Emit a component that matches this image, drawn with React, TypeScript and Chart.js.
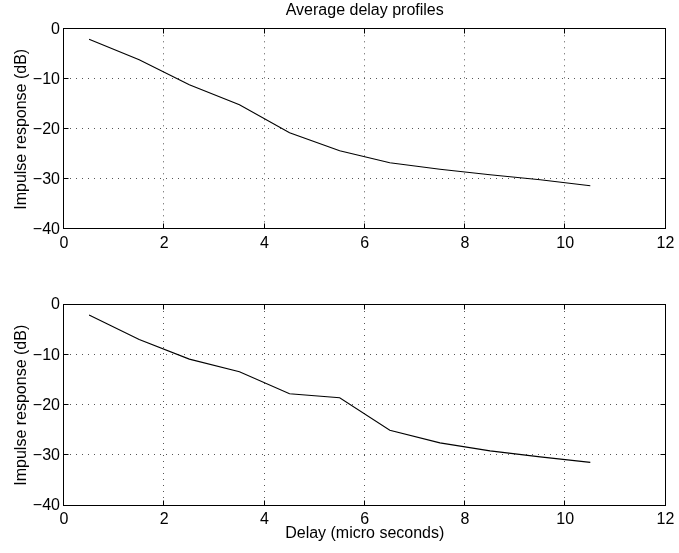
import React, { useEffect, useRef } from "react";
import { Chart, registerables } from "chart.js";

Chart.register(...registerables);

// Tap delays (micro seconds) and average impulse response (dB)
const delays = [0.5, 1.5, 2.5, 3.5, 4.5, 5.5, 6.5, 7.5, 8.5, 9.5, 10.5];
const upperProfile = [-2.0, -6.1, -11.1, -15.1, -20.7, -24.3, -26.7, -28.0, -29.1, -30.1, -31.3];
const lowerProfile = [-2.0, -6.9, -10.8, -13.3, -17.7, -18.5, -25.0, -27.5, -29.1, -30.3, -31.4];

const xTicks = [0, 2, 4, 6, 8, 10, 12];
const yTicks = [-40, -30, -20, -10, 0];

const titleText = "Average delay profiles";
const yLabel = "Impulse response (dB)";
const xLabel = "Delay (micro seconds)";

const FONT = "'Liberation Sans', Arial, Helvetica, sans-serif";
const W = 679;

// Dotted grid, closed box and inward tick marks
const axesBox = {
  id: "axesBox",
  beforeDatasetsDraw(chart: any) {
    const { ctx, chartArea, scales } = chart;
    const { left, right, top, bottom } = chartArea;
    const xs = scales.x;
    const ys = scales.y;
    ctx.save();
    ctx.strokeStyle = "#555";
    ctx.lineWidth = 1;
    ctx.setLineDash([1, 5]);
    xs.ticks.forEach((t: any) => {
      const px = Math.round(xs.getPixelForValue(t.value)) - 0.5;
      if (px <= left + 1 || px >= right - 1) return;
      ctx.beginPath();
      ctx.moveTo(px, top);
      ctx.lineTo(px, bottom);
      ctx.stroke();
    });
    ys.ticks.forEach((t: any) => {
      const py = Math.round(ys.getPixelForValue(t.value)) - 0.5;
      if (py <= top + 1 || py >= bottom - 1) return;
      ctx.beginPath();
      ctx.moveTo(left, py);
      ctx.lineTo(right, py);
      ctx.stroke();
    });
    ctx.restore();
  },
  afterDatasetsDraw(chart: any) {
    const { ctx, chartArea, scales } = chart;
    const L = Math.round(chartArea.left) - 0.5;
    const R = Math.round(chartArea.right) - 0.5;
    const T = Math.round(chartArea.top) - 0.5;
    const B = Math.round(chartArea.bottom) - 0.5;
    const xs = scales.x;
    const ys = scales.y;
    const len = 5;
    ctx.save();
    ctx.strokeStyle = "#000";
    ctx.lineWidth = 1;
    ctx.setLineDash([]);
    ctx.strokeRect(L, T, R - L, B - T);
    ctx.beginPath();
    xs.ticks.forEach((t: any) => {
      const px = Math.round(xs.getPixelForValue(t.value)) - 0.5;
      ctx.moveTo(px, B);
      ctx.lineTo(px, B - len);
      ctx.moveTo(px, T);
      ctx.lineTo(px, T + len);
    });
    ys.ticks.forEach((t: any) => {
      const py = Math.round(ys.getPixelForValue(t.value)) - 0.5;
      ctx.moveTo(L, py);
      ctx.lineTo(L + len, py);
      ctx.moveTo(R, py);
      ctx.lineTo(R - len, py);
    });
    ctx.stroke();
    ctx.restore();
  },
};

// Title centred over the plotting area
const heading = {
  id: "heading",
  afterDraw(chart: any, _args: any, opts: any) {
    if (!opts || !opts.text) return;
    const { ctx, chartArea } = chart;
    ctx.save();
    ctx.fillStyle = "#000";
    ctx.font = `16px ${FONT}`;
    ctx.textAlign = "center";
    ctx.textBaseline = "middle";
    ctx.fillText(opts.text, (chartArea.left + chartArea.right) / 2, opts.y);
    ctx.restore();
  },
};

function fmt(v: number) {
  return v < 0 ? "\u2212" + Math.abs(v) : String(v);
}

type PanelProps = {
  values: number[];
  height: number;
  padTop: number;
  xAxisHeight: number;
  title?: string;
  showXLabel?: boolean;
};

function Panel({ values, height, padTop, xAxisHeight, title, showXLabel }: PanelProps) {
  const ref = useRef<HTMLCanvasElement | null>(null);

  useEffect(() => {
    if (!ref.current) return;
    const chart = new Chart(ref.current, {
      type: "line",
      data: {
        datasets: [
          {
            data: delays.map((d, i) => ({ x: d, y: values[i] })),
            borderColor: "#000",
            borderWidth: 1.1,
            pointRadius: 0,
            tension: 0,
            fill: false,
          },
        ],
      },
      options: {
        responsive: false,
        animation: false,
        events: [],
        layout: { padding: { left: 0, right: 11, top: padTop, bottom: 0 } },
        plugins: {
          legend: { display: false },
          tooltip: { enabled: false },
          title: { display: false },
          heading: title ? { text: title, y: 11 } : {},
        } as any,
        scales: {
          x: {
            type: "linear",
            min: 0,
            max: 12,
            afterBuildTicks: (s: any) => {
              s.ticks = xTicks.map((v) => ({ value: v }));
            },
            afterFit: (s: any) => {
              s.height = xAxisHeight;
            },
            grid: { display: false, drawTicks: false },
            border: { display: false },
            ticks: {
              color: "#000",
              padding: 4.6,
              maxRotation: 0,
              autoSkip: false,
              font: { family: FONT, size: 16 },
              callback: (v: any) => fmt(Number(v)),
            },
            title: {
              display: !!showXLabel,
              text: xLabel,
              color: "#000",
              font: { family: FONT, size: 16 },
              padding: { top: 0, bottom: 9.4 },
            },
          },
          y: {
            type: "linear",
            min: -40,
            max: 0,
            afterBuildTicks: (s: any) => {
              s.ticks = yTicks.map((v) => ({ value: v }));
            },
            afterFit: (s: any) => {
              s.width = 64;
            },
            grid: { display: false, drawTicks: false },
            border: { display: false },
            ticks: {
              color: "#000",
              padding: 4,
              autoSkip: false,
              font: { family: FONT, size: 16 },
              callback: (v: any) => fmt(Number(v)),
            },
            title: {
              display: true,
              text: yLabel,
              color: "#000",
              font: { family: FONT, size: 16 },
              padding: { top: 11.5, bottom: 0 },
            },
          },
        },
      },
      plugins: [axesBox, heading],
    });
    return () => chart.destroy();
  }, [values, height, padTop, xAxisHeight, title, showXLabel]);

  return (
    <canvas
      ref={ref}
      width={W}
      height={height}
      style={{ display: "block", width: W, height }}
    />
  );
}

export default function App() {
  return (
    <div
      style={{
        position: "absolute",
        left: 0,
        top: 0,
        width: W,
        height: 553,
        background: "#fff",
      }}
    >
      <Panel values={upperProfile} height={270} padTop={29.3} xAxisHeight={40.7} title={titleText} />
      <Panel values={lowerProfile} height={283} padTop={35} xAxisHeight={47.5} showXLabel />
    </div>
  );
}
